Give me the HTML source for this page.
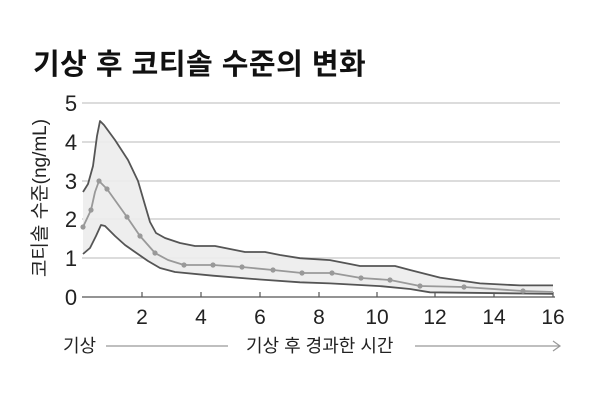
<!DOCTYPE html>
<html><head><meta charset="utf-8"><style>
html,body{margin:0;padding:0;background:#fff;}
svg{display:block;font-family:"Liberation Sans","Noto Sans CJK KR",sans-serif;}
</style></head><body>
<svg width="600" height="400" viewBox="0 0 600 400" xmlns="http://www.w3.org/2000/svg">
<rect width="600" height="400" fill="#fff"/>
<text x="33" y="74" font-size="29" font-weight="bold" fill="#111" letter-spacing="0.5">기상 후 코티솔 수준의 변화</text>
<g stroke="#c8c8c8" stroke-width="1.2">
<line x1="82" y1="103" x2="560" y2="103"/>
<line x1="82" y1="142" x2="560" y2="142"/>
<line x1="82" y1="181" x2="560" y2="181"/>
<line x1="82" y1="219" x2="560" y2="219"/>
<line x1="82" y1="258" x2="560" y2="258"/>
</g>
<line x1="82" y1="297" x2="555" y2="297" stroke="#555" stroke-width="1.3"/>
<g stroke="#555" stroke-width="1.2">
<line x1="142" y1="292" x2="142" y2="297"/><line x1="201" y1="292" x2="201" y2="297"/>
<line x1="260" y1="292" x2="260" y2="297"/><line x1="319" y1="292" x2="319" y2="297"/>
<line x1="377" y1="292" x2="377" y2="297"/><line x1="435" y1="292" x2="435" y2="297"/>
<line x1="494" y1="292" x2="494" y2="297"/><line x1="553" y1="292" x2="553" y2="297"/>
</g>
<polygon fill="#ececec" fill-opacity="0.9" points="83,192 88,184 93,166 97,136 100,121 104,125 115,140 128,160 138,181 145,205 150,222 156,233 165,238 180,243 195,246 215,246 230,249 245,252 265,252 280,255 300,258.2 330,260.1 350,264 360,266 395,266 410,270 440,277.6 480,283.4 520,285.4 553,285.4 553,293.9 430,292.3 410,289 380,286.1 330,283.4 300,282.3 260,279.5 213,275.7 175,272 160,268 148,261 135,252 125,245 115,236 105,226 101,225 96,236 90,248 83,254"/>
<g fill="none" stroke="#555" stroke-width="1.8" stroke-linejoin="round">
<polyline points="83,192 88,184 93,166 97,136 100,121 104,125 115,140 128,160 138,181 145,205 150,222 156,233 165,238 180,243 195,246 215,246 230,249 245,252 265,252 280,255 300,258.2 330,260.1 350,264 360,266 395,266 410,270 440,277.6 480,283.4 520,285.4 553,285.4"/>
<polyline points="83,254 90,248 96,236 101,225 105,226 115,236 125,245 135,252 148,261 160,268 175,272 213,275.7 260,279.5 300,282.3 330,283.4 380,286.1 410,289 430,292.3 553,293.9"/>
</g>
<polyline fill="none" stroke="#999" stroke-width="1.8" stroke-linejoin="round" points="83,227 91,210 95,192 99,181 107,189 127,217 140,236 155,253 168,260 184,265 213,265 242,267 273,270 302,273 332,273 361,278 390,280 420,286 464,287 523,291 553,292"/>
<g fill="#999">
<circle cx="83" cy="227" r="2.6"/><circle cx="91" cy="210" r="2.6"/><circle cx="99" cy="181" r="2.6"/><circle cx="107" cy="189" r="2.6"/><circle cx="127" cy="217" r="2.6"/><circle cx="140" cy="236" r="2.6"/><circle cx="155" cy="253" r="2.6"/><circle cx="184" cy="265" r="2.6"/><circle cx="213" cy="265" r="2.6"/><circle cx="242" cy="267" r="2.6"/><circle cx="273" cy="270" r="2.6"/><circle cx="302" cy="273" r="2.6"/><circle cx="332" cy="273" r="2.6"/><circle cx="361" cy="278" r="2.6"/><circle cx="390" cy="280" r="2.6"/><circle cx="420" cy="286" r="2.6"/><circle cx="464" cy="287" r="2.6"/><circle cx="523" cy="291" r="2.6"/>
</g>
<g font-size="22" fill="#222" text-anchor="middle">
<text x="71" y="111">5</text><text x="71" y="150">4</text><text x="71" y="189">3</text>
<text x="71" y="227">2</text><text x="71" y="266">1</text><text x="71" y="305">0</text>
</g>
<text transform="translate(46,198) rotate(-90)" font-size="19" fill="#222" text-anchor="middle">코티솔 수준(ng/mL)</text>
<g font-size="21" fill="#222" text-anchor="middle">
<text x="142" y="324">2</text><text x="201" y="324">4</text><text x="260" y="324">6</text>
<text x="319" y="324">8</text><text x="377" y="324">10</text><text x="435" y="324">12</text>
<text x="494" y="324">14</text><text x="553" y="324">16</text>
</g>
<text x="63" y="352" font-size="18" fill="#222">기상</text>
<line x1="106" y1="346" x2="228" y2="346" stroke="#999" stroke-width="1.2"/>
<text x="246" y="352" font-size="18" fill="#222">기상 후 경과한 시간</text>
<line x1="415" y1="346" x2="560" y2="346" stroke="#999" stroke-width="1.2"/>
<polyline points="553,341 560,346 553,351" fill="none" stroke="#999" stroke-width="1.2"/>
</svg>
</body></html>
